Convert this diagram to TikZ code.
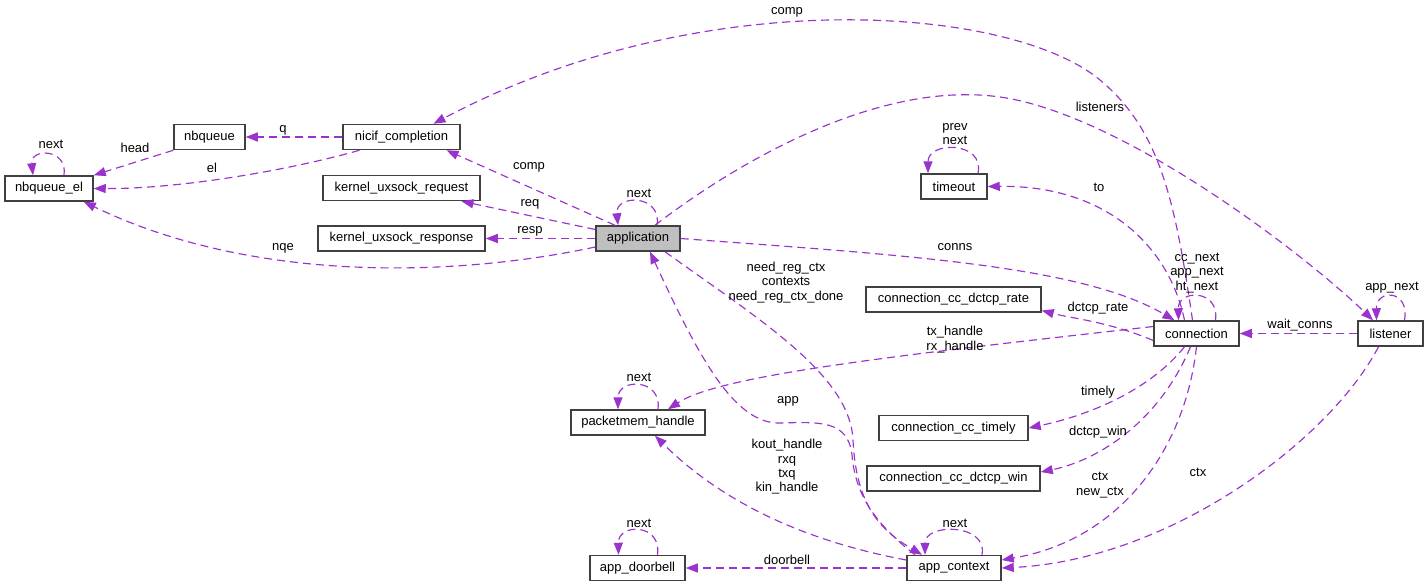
\documentclass[tikz,border=0pt]{standalone}
\usepackage{fontspec}
\setmainfont{Liberation Sans}
\usetikzlibrary{arrows.meta}
\definecolor{edgec}{HTML}{9A32CD}
\definecolor{boxc}{HTML}{404040}
\definecolor{appfill}{HTML}{BFBFBF}
\begin{document}
\begin{tikzpicture}[x=1pt,y=-1pt,
  box/.style={draw=boxc, line width=1.5pt, minimum height=25pt, inner sep=0pt, font=\fontsize{13}{14.3}\selectfont, fill=white},
  edge/.style={draw=edgec, line width=1.15pt, dash pattern=on 8pt off 5pt, -{Triangle[length=12pt,width=9pt]}},
  lbl/.style={font=\fontsize{13}{14.3}\selectfont, align=center, inner sep=0pt}]
\useasboundingbox (0,0) rectangle (1428,587);
\fill[white] (0,0) rectangle (1428,587);

% nodes
\node[box, minimum width=88pt]  (nbqel)    at (49,188.5)    {nbqueue\_el};
\node[box, minimum width=71pt]  (nbq)      at (209.5,137)   {nbqueue};
\node[box, minimum width=117pt] (nicif)    at (401.5,137)   {nicif\_completion};
\node[box, minimum width=157pt] (kreq)     at (401.5,188)   {kernel\_uxsock\_request};
\node[box, minimum width=167pt] (kresp)    at (401.5,238.5) {kernel\_uxsock\_response};
\node[box, minimum width=84pt, fill=appfill] (app) at (638,238.5) {application};
\node[box, minimum width=66pt]  (timeout)  at (954,186.5)   {timeout};
\node[box, minimum width=175pt] (ccrate)   at (953.5,299.5) {connection\_cc\_dctcp\_rate};
\node[box, minimum width=85pt]  (conn)     at (1196.5,333.5){connection};
\node[box, minimum width=65pt]  (listener) at (1390.5,333.5){listener};
\node[box, minimum width=134pt] (pmh)      at (638,422.5)   {packetmem\_handle};
\node[box, minimum width=149pt] (cctimely) at (953.5,428)   {connection\_cc\_timely};
\node[box, minimum width=173pt] (ccwin)    at (953.5,478.5) {connection\_cc\_dctcp\_win};
\node[box, minimum width=94pt]  (appctx)   at (954,568)     {app\_context};
\node[box, minimum width=95pt]  (doorbell) at (637.5,568)   {app\_doorbell};

% edges
\draw[edge] ([xshift=15pt]nbqel.north) .. controls (68,148) and (30,148) .. ([xshift=-16pt]nbqel.north);
\draw[edge] (nbq.south west) -- (nbqel.north east);
\draw[edge] (nicif.west) -- (nbq.east);
\draw[edge] ([xshift=-42pt]nicif.south) .. controls (290,170) and (180,189) .. (nbqel.east);
\draw[edge] ([yshift=-8.5pt]app.west) .. controls (450,278) and (250,282) .. ([xshift=-10pt]nbqel.south east);
\draw[edge] ([xshift=-23pt]app.north) -- ([xshift=45pt]nicif.south);
\draw[edge] ([yshift=9pt]app.west) -- ([xshift=60pt]kreq.south);
\draw[edge] (app.west) -- (kresp.east);
\draw[edge] ([xshift=19pt]app.north) .. controls (662,194) and (615,194) .. ([xshift=-20pt]app.north);
\draw[edge] ([xshift=-4pt]conn.north) .. controls (1175,200) and (1160,130) .. (1100,80)
            .. controls (1010,5) and (700,-18) .. ([xshift=32pt]nicif.north);
\draw[edge] ([xshift=17pt]app.north) .. controls (740,160) and (880,80) .. (1000,97)
            .. controls (1120,114) and (1300,250) .. ([xshift=-17.5pt]listener.north);
\draw[edge] ([xshift=19pt]conn.north) .. controls (1220,289) and (1178,289) .. ([xshift=-18pt]conn.north);
\draw[edge] ([xshift=14pt]listener.north) .. controls (1410,289) and (1376,289) .. ([xshift=-14pt]listener.north);
\draw[edge] ([xshift=24pt]timeout.north) .. controls (985,141) and (928,141) .. ([xshift=-26pt]timeout.north);
\draw[edge] ([xshift=-12pt]conn.north) .. controls (1170,250) and (1110,185) .. (timeout.east);
\draw[edge] (app.east) .. controls (900,255) and (1080,265) .. ([xshift=-22pt]conn.north);
\draw[edge] ([yshift=-7pt]conn.west) .. controls (1110,322) and (1070,318) .. ([yshift=-11pt]ccrate.east);
\draw[edge] ([yshift=7pt]conn.west) .. controls (900,355) and (720,375) .. ([xshift=30pt]pmh.north);
\draw[edge] ([xshift=-12pt]conn.south) .. controls (1150,390) and (1090,415) .. (cctimely.east);
\draw[edge] ([xshift=-6pt]conn.south) .. controls (1160,420) and (1100,460) .. ([yshift=6.5pt]ccwin.east);
\draw[edge] (conn.south) .. controls (1185,450) and (1120,540) .. ([yshift=8pt]appctx.east);
\draw[edge] ([xshift=-12pt]listener.south) .. controls (1330,440) and (1170,560) .. (appctx.east);
\draw[edge] (listener.west) -- (conn.east);
\draw[edge] ([xshift=27pt]app.south) .. controls (760,320) and (850,375) .. (853,440)
            .. controls (856,505) and (880,530) .. ([xshift=-32pt]appctx.north);
\draw[edge] ([xshift=-39pt]appctx.north) .. controls (870,520) and (855,490) .. (852,455)
            .. controls (848,420) and (820,422) .. (780,423)
            .. controls (735,424) and (700,360) .. ([xshift=12pt]app.south);
\draw[edge] ([yshift=8pt]appctx.west) .. controls (800,540) and (720,500) .. ([xshift=17pt]pmh.south);
\draw[edge] (appctx.west) -- (doorbell.east);
\draw[edge] ([xshift=20pt]doorbell.north) .. controls (662,523) and (618,523) .. ([xshift=-19pt]doorbell.north);
\draw[edge] ([xshift=28pt]appctx.north) .. controls (988,523) and (925,523) .. ([xshift=-29pt]appctx.north);
\draw[edge] ([xshift=20pt]pmh.north) .. controls (662,378) and (618,378) .. ([xshift=-20pt]pmh.north);

% labels
\node[lbl] (l1)  at (51,144)  {next};
\node[lbl] (l2)  at (135,148) {head};
\node[lbl] (l3)  at (283,130) {q};
\node[lbl] (l4)  at (212,168) {el};
\node[lbl] (l5)  at (283,248) {nqe};
\node[lbl] (l6)  at (529,167) {comp};
\node[lbl] (l7)  at (530,204) {req};
\node[lbl] (l8)  at (530,231) {resp};
\node[lbl] (l9)  at (639,193) {next};
\node[lbl] (l10) at (787,12)  {comp};
\node[lbl] (l11) at (1100,107) {listeners};
\node[lbl] (l12) at (955,134) {prev\\next};
\node[lbl] (l13) at (1099,187) {to};
\node[lbl] (l14) at (955,247) {conns};
\node[lbl] (l15) at (1197,273) {cc\_next\\app\_next\\ht\_next};
\node[lbl] (l16) at (1098,308) {dctcp\_rate};
\node[lbl] (l17) at (1300,325) {wait\_conns};
\node[lbl] (l18) at (1392,288) {app\_next};
\node[lbl] (l19) at (955,339.5) {tx\_handle\\rx\_handle};
\node[lbl] (l20) at (786,282.5) {need\_reg\_ctx\\contexts\\need\_reg\_ctx\_done};
\node[lbl] (l21) at (639,377) {next};
\node[lbl] (l22) at (1098,392) {timely};
\node[lbl] (l23) at (788,401) {app};
\node[lbl] (l24) at (1098,432) {dctcp\_win};
\node[lbl] (l25) at (787,467) {kout\_handle\\rxq\\txq\\kin\_handle};
\node[lbl] (l26) at (1100,485) {ctx\\new\_ctx};
\node[lbl] (l27) at (1198,472) {ctx};
\node[lbl] (l28) at (639,523) {next};
\node[lbl] (l29) at (955,523) {next};
\node[lbl] (l30) at (787,560) {doorbell};
\end{tikzpicture}
\end{document}
